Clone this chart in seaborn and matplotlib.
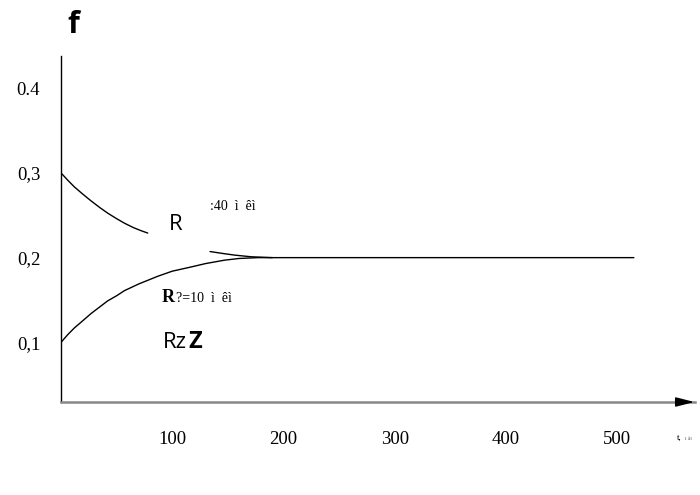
import pandas as pd
import seaborn as sns
import matplotlib
matplotlib.use("Agg")
import matplotlib.pyplot as plt

# Relaxation curves f(t) read point by point
upper_a_t = [0, 6, 12, 20, 27, 35, 42, 50, 57, 65, 72, 78]
upper_a_f = [0.300, 0.2915, 0.2835, 0.2745, 0.267, 0.259, 0.2525, 0.246,
             0.2407, 0.2355, 0.2318, 0.229]
upper_b_t = [134, 145, 156, 171, 190]
upper_b_f = [0.2072, 0.2050, 0.2030, 0.2010, 0.2000]
lower_t = [0, 6, 12, 20, 27, 35, 42, 50, 57, 70, 87, 100, 117, 130, 147,
           160, 177, 200, 515]
lower_f = [0.100, 0.109, 0.117, 0.126, 0.134, 0.142, 0.149, 0.155, 0.161,
           0.169, 0.178, 0.184, 0.189, 0.193, 0.197, 0.199, 0.200, 0.200,
           0.200]

x_ticks = [100, 200, 300, 400, 500]
y_ticks = [0.1, 0.2, 0.3, 0.4]
y_tick_labels = ["0,1", "0,2", "0,3", "0.4"]

sns.set_style("white")
plt.rcParams["font.family"] = ["Liberation Serif", "DejaVu Serif"]
plt.rcParams["text.color"] = "black"
plt.rcParams["xtick.labelcolor"] = "black"
plt.rcParams["ytick.labelcolor"] = "black"

fig = plt.figure(figsize=(7.0, 4.95), dpi=100)
ax = fig.add_axes([61 / 700, 93 / 495, (695 - 61) / 700, (402 - 56) / 495])

segments = pd.concat([
    pd.DataFrame({"t": upper_a_t, "f": upper_a_f, "seg": "a"}),
    pd.DataFrame({"t": upper_b_t, "f": upper_b_f, "seg": "b"}),
    pd.DataFrame({"t": lower_t, "f": lower_f, "seg": "c"}),
])
sns.lineplot(data=segments, x="t", y="f", units="seg", estimator=None,
             color="black", linewidth=1.0, ax=ax, legend=False, sort=False)

ax.set_xlim(0, 570)
ax.set_ylim(0.0296, 0.438)
ax.set_xlabel("")
ax.set_ylabel("")

for side in ("top", "right"):
    ax.spines[side].set_visible(False)
ax.spines["left"].set_color("black")
ax.spines["left"].set_linewidth(1.0)
ax.spines["bottom"].set_color("#888888")
ax.spines["bottom"].set_linewidth(1.8)

ax.set_xticks(x_ticks)
ax.set_xticklabels([str(v) for v in x_ticks])
ax.set_yticks(y_ticks)
ax.set_yticklabels(y_tick_labels)
ax.tick_params(axis="x", direction="in", length=5, width=1, color="black",
               labelsize=13.5, pad=21)
ax.tick_params(axis="y", direction="in", length=8, width=1, color="black",
               labelsize=13.5, pad=15)

# arrow head at the end of the time axis
ax.annotate("", xy=(572, 0.0296), xytext=(556, 0.0296),
            xycoords="data", textcoords="data",
            arrowprops=dict(arrowstyle="-|>,head_length=1.1,head_width=0.28",
                            color="black", lw=1.2),
            annotation_clip=False)

sans = ["Open Sans", "DejaVu Sans"]
fig.text(73 / 700, 1 - 25 / 495, "f", fontsize=22, fontweight="bold",
         family=sans, ha="center", va="center")
fig.text(176 / 700, 1 - 224 / 495, "R", fontsize=16, family=sans,
         ha="center", va="center")
fig.text(210 / 700, 1 - 206 / 495, ":40  ì  êì", fontsize=10,
         ha="left", va="center")
fig.text(162 / 700, 1 - 298 / 495, "R", fontsize=13, fontweight="bold",
         ha="left", va="center")
fig.text(176 / 700, 1 - 299 / 495, "?=10  ì  êì", fontsize=10,
         ha="left", va="center")
fig.text(163 / 700, 1 - 343 / 495, "Rz", fontsize=16, family=sans,
         ha="left", va="center")
fig.text(188 / 700, 1 - 342 / 495, "Z", fontsize=17, fontweight="bold",
         family=sans, ha="left", va="center")
fig.text(677 / 700, 1 - 438 / 495, "t,", fontsize=6.5,
         ha="left", va="center")
fig.text(685 / 700, 1 - 438 / 495, "ı àı", fontsize=4,
         ha="left", va="center", color="#666666")

fig.savefig("out.png", dpi=100, facecolor="white")
